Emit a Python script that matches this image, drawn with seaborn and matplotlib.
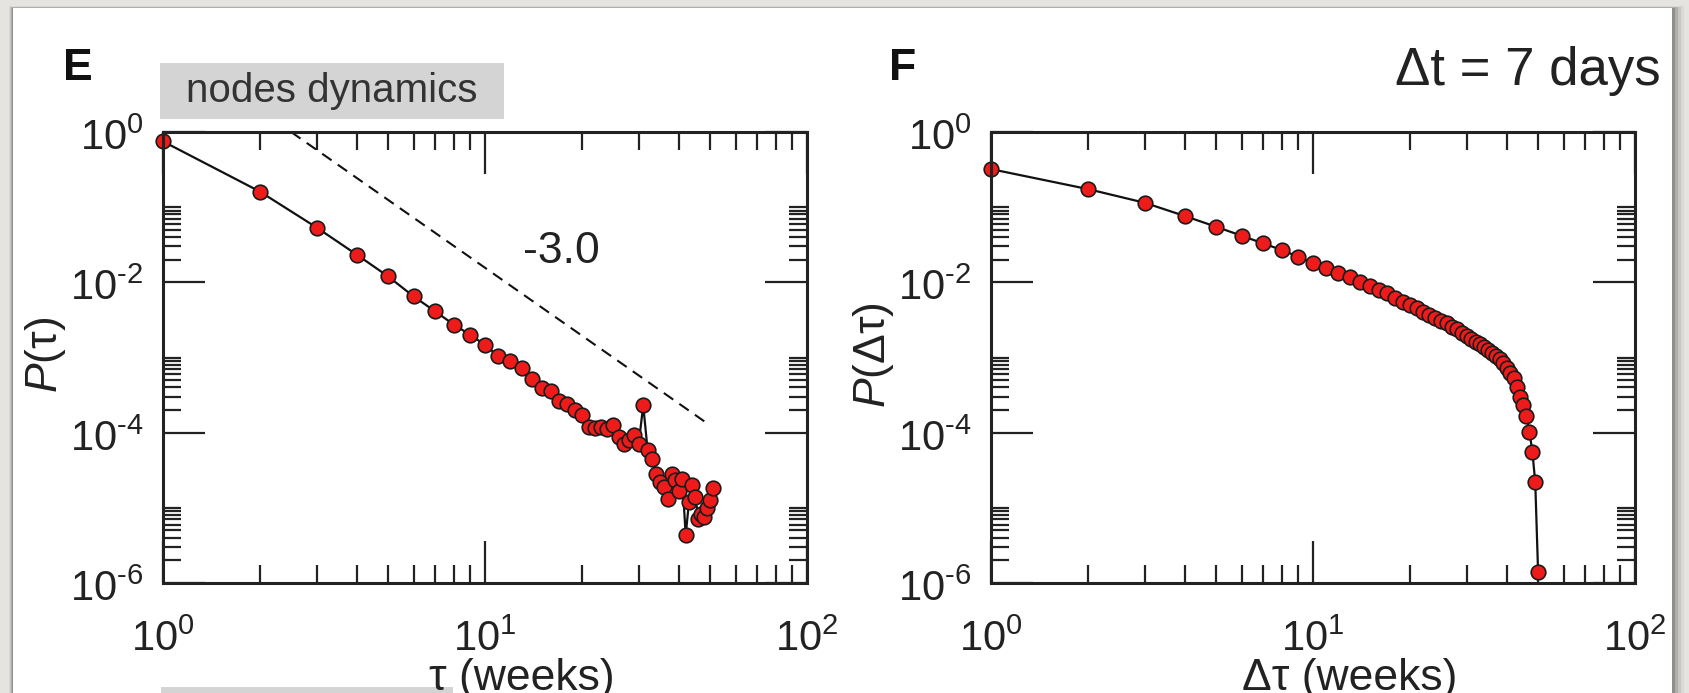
import matplotlib
matplotlib.use("Agg")
import matplotlib.pyplot as plt
import matplotlib.transforms as mtransforms
import seaborn as sns
from matplotlib.patches import Rectangle
from matplotlib.ticker import FixedLocator, NullFormatter

# panel E: lifetime of nodes
weeks_e = list(range(1, 52))
p_tau = [0.75, 0.161, 0.0536, 0.0233, 0.0120, 0.0065, 0.00411, 0.00274, 0.00200, 0.00147,
         0.00104, 8.9e-4, 7.3e-4, 5.1e-4, 3.96e-4, 3.55e-4, 2.6e-4, 2.37e-4, 2.02e-4, 1.70e-4,
         1.19e-4, 1.16e-4, 1.19e-4, 1.13e-4, 1.25e-4, 8.7e-5, 7.0e-5, 8.1e-5, 9.2e-5, 7.0e-5,
         2.31e-4, 5.8e-5, 4.5e-5, 2.86e-5, 2.21e-5, 1.90e-5, 1.30e-5, 2.80e-5, 2.33e-5, 1.68e-5,
         2.45e-5, 4.3e-6, 1.20e-5, 2.0e-5, 1.40e-5, 7.2e-6, 8.4e-6, 7.6e-6, 9.8e-6, 1.26e-5,
         1.86e-5]

# guide line with slope -3.0
guide_x = [2.5, 50]
guide_y = [1.0, 1.25e-4]

# panel F: inter-event times
weeks_f = list(range(1, 51))
p_dtau = [0.321, 0.174, 0.1145, 0.0762, 0.0549, 0.0417, 0.0330, 0.0269, 0.0219, 0.0179,
          0.01535, 0.01318, 0.01165, 0.0100, 0.00893, 0.00790, 0.00714, 0.00613, 0.00552, 0.00499,
          0.00451, 0.00406, 0.00367, 0.00338, 0.00308, 0.00285, 0.00257, 0.00237, 0.00214, 0.00193,
          0.00178, 0.00162, 0.00150, 0.00137, 0.00126, 0.00114, 0.00105, 9.5e-4, 8.4e-4, 7.2e-4,
          6.3e-4, 5.3e-4, 4.09e-4, 3.01e-4, 2.34e-4, 1.68e-4, 1.03e-4, 5.6e-5, 2.19e-5, 1.42e-6]

# ticks
x_major = [1, 10, 100]
x_labels = [r"$\mathregular{10^{0}}$", r"$\mathregular{10^{1}}$", r"$\mathregular{10^{2}}$"]
x_minor = [2, 3, 4, 5, 6, 7, 8, 9, 20, 30, 40, 50, 60, 70, 80, 90]
y_major = [1e0, 1e-2, 1e-4, 1e-6]
y_labels = [r"$\mathregular{10^{0}}$", r"$\mathregular{10^{\text{-}2}}$",
            r"$\mathregular{10^{\text{-}4}}$", r"$\mathregular{10^{\text{-}6}}$"]
y_minor = [2e-2, 3e-2, 4e-2, 5e-2, 6e-2, 7e-2, 8e-2, 9e-2, 1e-1,
           2e-4, 3e-4, 4e-4, 5e-4, 6e-4, 7e-4, 8e-4, 9e-4, 1e-3,
           2e-6, 3e-6, 4e-6, 5e-6, 6e-6, 7e-6, 8e-6, 9e-6, 1e-5]

sns.set_theme(style="ticks")
plt.rcParams["font.family"] = ["Liberation Sans", "DejaVu Sans"]
plt.rcParams["mathtext.fontset"] = "custom"
plt.rcParams["mathtext.rm"] = "Liberation Sans"
plt.rcParams["mathtext.it"] = "Liberation Sans:italic"
plt.rcParams["mathtext.bf"] = "Liberation Sans:bold"

INK = "#222222"
RED = "#ee1b1b"

fig = plt.figure(figsize=(16.9, 6.93), dpi=100)
fig.patch.set_facecolor("#e6e4e0")
W, H = 1690.0, 693.0

# white "card" with a soft shadow, kept behind the axes
for i, a in enumerate([0.05, 0.08, 0.12, 0.18]):
    fig.patches.append(Rectangle(((13 - 4 + i) / W, 0), (1672 - 13 + 16 - 4 * i) / W, 1 - (8 - 2 + i * 0.5) / H,
                                 transform=fig.transFigure, color="black", alpha=a, lw=0, zorder=-20))
fig.patches.append(Rectangle((13 / W, 0), (1672 - 13) / W, 1 - 8 / H,
                             transform=fig.transFigure, color="white", lw=0, zorder=-10))
# fragment of next row's grey tag
fig.patches.append(Rectangle((161 / W, 0), (453 - 161) / W, 6 / H,
                             transform=fig.transFigure, color="#d4d4d4", lw=0, zorder=-5))
# grey tag behind "nodes dynamics"
fig.patches.append(Rectangle((160 / W, 1 - 119 / H), (504 - 160) / W, 56 / H,
                             transform=fig.transFigure, color="#d4d4d4", lw=0, zorder=-5))

ax_e = fig.add_axes([163 / W, 1 - 583 / H, 644 / W, 451 / H])
ax_f = fig.add_axes([991 / W, 1 - 583 / H, 644 / W, 451 / H])

# shift y tick labels a little downward, like the reference
ylab_shift = mtransforms.ScaledTranslation(0, -5 / 72, fig.dpi_scale_trans)


def style_axes(ax, ylabel, xlabel):
    ax.set_xscale("log")
    ax.set_yscale("log")
    ax.set_xlim(1, 100)
    ax.set_ylim(1e-6, 1)
    ax.set_facecolor("white")
    ax.xaxis.set_major_locator(FixedLocator(x_major))
    ax.set_xticklabels(x_labels)
    ax.xaxis.set_minor_locator(FixedLocator(x_minor))
    ax.xaxis.set_minor_formatter(NullFormatter())
    ax.yaxis.set_major_locator(FixedLocator(y_major))
    ax.set_yticklabels(y_labels)
    ax.yaxis.set_minor_locator(FixedLocator(y_minor))
    ax.yaxis.set_minor_formatter(NullFormatter())
    ax.tick_params(which="both", direction="in", top=True, right=True,
                   color=INK, labelcolor=INK, labelsize=30, width=1.6)
    ax.tick_params(which="major", length=30)
    ax.tick_params(which="minor", length=13)
    ax.tick_params(axis="y", which="major", pad=14)
    ax.tick_params(axis="x", which="major", pad=26)
    for tick in ax.yaxis.get_major_ticks():
        tick.label1.set_va("center")
        tick.label1.set_transform(tick.label1.get_transform() + ylab_shift)
    for sp in ax.spines.values():
        sp.set_linewidth(2.2)
        sp.set_color(INK)
        sp.set_zorder(5)
    ax.set_ylabel(ylabel, fontsize=32, color=INK, va="center")
    ax.yaxis.set_label_coords(-0.182, 0.505)
    ax.set_xlabel(xlabel, fontsize=32, color=INK, va="top")
    ax.xaxis.set_label_coords(0.557, -0.166)


def draw_series(ax, x, y):
    sns.lineplot(x=x, y=y, ax=ax, color="#111111", lw=1.6, marker="o", markersize=10.5,
                 markerfacecolor=RED, markeredgecolor="#1a1a1a", markeredgewidth=1.2,
                 sort=False, estimator=None, clip_on=False, zorder=3)


style_axes(ax_e, r"$\mathit{P}\mathrm{(τ)}$", "τ (weeks)")
ax_e.plot(guide_x, guide_y, color="#111111", lw=1.5, dashes=(5.5, 3.6), zorder=2)
draw_series(ax_e, weeks_e, p_tau)
ax_e.text(17.3, 0.026, "-3.0", fontsize=32, color=INK, ha="center", va="center")

style_axes(ax_f, r"$\mathit{P}\mathrm{(Δτ)}$", "Δτ (weeks)")
draw_series(ax_f, weeks_f, p_dtau)

# panel letters and annotations
fig.text(63 / W, 1 - 80 / H, "E", fontsize=32, fontweight="bold", color="#111111", va="baseline")
fig.text(889 / W, 1 - 80 / H, "F", fontsize=32, fontweight="bold", color="#111111", va="baseline")
fig.text(1661 / W, 1 - 85 / H, "Δt = 7 days", fontsize=38, color=INK, ha="right", va="baseline")
fig.text(332 / W, 1 - 91 / H, "nodes dynamics", fontsize=29, color="#333333", ha="center", va="center")

fig.savefig("out.png", dpi=100, facecolor=fig.get_facecolor())
